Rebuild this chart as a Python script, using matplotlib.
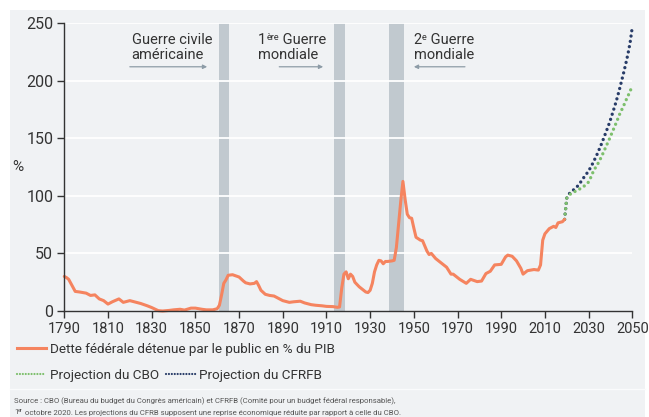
import matplotlib
matplotlib.use('Agg')
import matplotlib.pyplot as plt
from matplotlib import font_manager
from matplotlib.patches import Rectangle
from matplotlib.lines import Line2D

# ---------------- data ----------------
hist_years = [1790, 1791, 1792, 1795, 1797, 1800, 1802, 1804, 1806, 1808, 1810, 1812, 1815, 1817,
              1820, 1822, 1825, 1828, 1830, 1833, 1835, 1838, 1840, 1843, 1845, 1848, 1850, 1853,
              1855, 1858, 1860, 1861, 1862, 1863, 1864, 1865, 1867, 1870, 1872, 1873, 1875, 1877,
              1878, 1879, 1880, 1882, 1884, 1886, 1888, 1890, 1893, 1895, 1898, 1900, 1903, 1905,
              1908, 1910, 1913, 1915, 1916, 1917, 1918, 1919, 1920, 1921, 1922, 1923, 1925, 1928,
              1929, 1930, 1931, 1932, 1933, 1934, 1935, 1936, 1937, 1938, 1940, 1941, 1942, 1943,
              1944, 1945, 1946, 1947, 1948, 1949, 1950, 1951, 1953, 1954, 1956, 1957, 1958, 1960,
              1963, 1965, 1967, 1968, 1971, 1974, 1976, 1979, 1981, 1983, 1985, 1987, 1990, 1992,
              1993, 1995, 1997, 1999, 2000, 2002, 2005, 2007, 2008, 2009, 2010, 2012, 2014, 2015,
              2016, 2018, 2019]
hist_debt = [30, 29, 27.5, 17, 16.5, 15.5, 13.5, 14, 10.5, 9, 6, 8, 10.5, 7.5,
             9, 8, 6.5, 4.5, 3, 0.3, 0, 0.5, 1, 1.5, 0.8, 2.5, 2.5, 1.5,
             1, 1, 2, 5, 14, 24, 27, 31, 31.5, 29.5, 26, 24.5, 23.5, 24,
             25.5, 22, 18, 14.5, 13.5, 13, 11, 9, 7.5, 8, 8.5, 7, 5.5, 5,
             4.5, 4, 3.8, 3.2, 3.5, 20, 32, 34, 28, 32, 30, 25, 21, 16.5,
             16, 18, 24, 34, 40, 44, 43.5, 41, 43, 43, 43.5, 44, 55, 75,
             95, 112.5, 97, 84, 81, 80.5, 72, 64, 61.5, 61, 52, 49, 50, 45.5,
             41, 38, 32, 32, 27.5, 24, 27.5, 25.5, 26, 32.5, 34.5, 40, 40.5, 47,
             48.5, 47.5, 43.5, 37, 32, 35, 36, 35.5, 40, 61.5, 67, 71.5, 73.5, 72.5,
             76.5, 77.5, 79.5]

proj_years = list(range(2019, 2051))
cbo_proj = [79.5, 98, 100.5, 102, 103, 104, 105, 106, 107, 108.5, 110, 112, 116, 120.5,
            124, 127, 130.5, 134.5, 138.5, 143, 147, 151.5, 156, 160.5, 165, 170, 174,
            178, 182.5, 186.5, 191, 195]
cfrfb_proj = [79.5, 98, 101.5, 103.5, 105, 106.5, 108.5, 111, 113.5, 116.5, 119, 121.5, 125,
              128.5, 132.5, 136.5, 141, 145.5, 150.5, 155.5, 160.5, 166, 172, 178, 184.5,
              191.5, 199, 206.5, 214.5, 223, 233, 246.5]

wars = [(1861, 1865.5), (1913.5, 1918.5), (1938.7, 1945.6)]
x_ticks = list(range(1790, 2051, 20))
y_ticks = [0, 50, 100, 150, 200, 250]

legend_hist = "Dette fédérale détenue par le public en % du PIB"
legend_cbo = "Projection du CBO"
legend_cfrfb = "Projection du CFRFB"
source_1 = "Source : CBO (Bureau du budget du Congrès américain) et CFRFB (Comité pour un budget fédéral responsable),"
source_2 = " octobre 2020. Les projections du CFRB supposent une reprise économique réduite par rapport à celle du CBO."

# ---------------- style ----------------
names = {f.name for f in font_manager.fontManager.ttflist}
NARROW = 'Liberation Sans Narrow' if 'Liberation Sans Narrow' in names else 'Roboto'

ORANGE = '#f5845f'
GREEN = '#7dbf6c'
BLUE = '#283c68'
BAND = '#c1c9cf'
PANEL = '#f0f2f4'
TXT = '#333333'
ARROW = '#8d9ca7'
SRC = '#555555'

W, H = 649, 417
fig = plt.figure(figsize=(W / 100, H / 100), dpi=100)
fig.patch.set_facecolor('white')
fig.patches.append(Rectangle((10 / W, 0), 635 / W, 1 - 10 / H, transform=fig.transFigure,
                             facecolor=PANEL, edgecolor='none', zorder=-10))
fig.lines.append(Line2D([10 / W, 645 / W], [1 - 388.5 / H] * 2, transform=fig.transFigure,
                        color='#fafbfc', lw=1.0, zorder=-9))

ax = fig.add_axes([64.3 / W, 106 / H, 568 / W, 288 / H])
ax.set_facecolor('none')
ax.set_xlim(1790, 2050)
ax.set_ylim(0, 250)

for s, e in wars:
    ax.axvspan(s, e, color=BAND, lw=0, zorder=1)
for yv in y_ticks[1:]:
    ax.axhline(yv, color='white', lw=1.3, zorder=2)

ax.plot(hist_years, hist_debt, color=ORANGE, lw=2.2, zorder=4, clip_on=False,
        solid_joinstyle='round', solid_capstyle='round')
ax.plot(proj_years, cfrfb_proj, color=BLUE, lw=2.4, ls=(0, (0.01, 1.6)),
        dash_capstyle='round', zorder=3, clip_on=False)
ax.plot(proj_years, cbo_proj, color=GREEN, lw=2.4, ls=(0, (0.01, 1.6)),
        dash_capstyle='round', zorder=3.5, clip_on=False)

for sp in ['top', 'right']:
    ax.spines[sp].set_visible(False)
for sp in ['left', 'bottom']:
    ax.spines[sp].set_color(TXT)
    ax.spines[sp].set_linewidth(1.0)
    ax.spines[sp].set_zorder(5)

ax.set_xticks(x_ticks)
ax.set_yticks(y_ticks)
ax.tick_params(axis='both', direction='out', length=5, width=1.0, color=TXT, labelcolor=TXT)
ax.tick_params(axis='x', pad=3)
ax.tick_params(axis='y', pad=3)
for lab in ax.get_xticklabels():
    lab.set_fontfamily(NARROW)
    lab.set_fontsize(10.5)
for lab in ax.get_yticklabels():
    lab.set_fontfamily(NARROW)
    lab.set_fontsize(11.5)

fig.text(18 / W, 1 - 167 / H, '%', ha='center', va='center', fontsize=11, color=TXT, family=NARROW)

# ---------------- annotations ----------------
renderer = fig.canvas.get_renderer()


def rich(x_px, y_base_px, parts, color, family):
    x = x_px
    for s, size, rise in parts:
        t = fig.text(x / W, 1 - (y_base_px - rise) / H, s, fontsize=size, family=family,
                     color=color, ha='left', va='baseline')
        x += t.get_window_extent(renderer=renderer).width
    return x


def data_px(xd, yd):
    dx, dy = ax.transData.transform((xd, yd))
    return dx, H - dy


ANN = 10.5
ann_top = 231.5
ann_bot = 218.5
for (xd, lines) in [(1820.8, [[("Guerre civile", ANN, 0)], [("américaine", ANN, 0)]]),
                    (1878.8, [[("1", ANN, 0), ("ère", 6.5, 4.5), (" Guerre", ANN, 0)],
                              [("mondiale", ANN, 0)]]),
                    (1950.0, [[("2", ANN, 0), ("e", 6.5, 4.5), (" Guerre", ANN, 0)],
                              [("mondiale", ANN, 0)]])]:
    for yd, parts in zip([ann_top, ann_bot], lines):
        px, py = data_px(xd, yd)
        rich(px, py, parts, TXT, NARROW)

for x0, x1 in [(1820.0, 1855.4), (1888.4, 1908.5), (1973.4, 1950.0)]:
    ax.annotate('', xy=(x1, 212), xytext=(x0, 212),
                arrowprops=dict(arrowstyle='-|>', color=ARROW, lw=0.9, mutation_scale=6,
                                shrinkA=0, shrinkB=0), zorder=6)

# ---------------- legend ----------------
LEG = 9.7
fig.lines.append(Line2D([17 / W, 46 / W], [1 - 348 / H] * 2, transform=fig.transFigure,
                        color=ORANGE, lw=2.2))
fig.text(50 / W, 1 - 353.5 / H, legend_hist, fontsize=LEG, family=NARROW, color=TXT,
         ha='left', va='baseline')
fig.lines.append(Line2D([17 / W, 46 / W], [1 - 374 / H] * 2, transform=fig.transFigure,
                        color=GREEN, lw=1.6, ls=(0, (0.01, 1.3)), dash_capstyle='round'))
fig.text(50 / W, 1 - 379 / H, legend_cbo, fontsize=LEG, family=NARROW, color=TXT,
         ha='left', va='baseline')
fig.lines.append(Line2D([166 / W, 198 / W], [1 - 374 / H] * 2, transform=fig.transFigure,
                        color=BLUE, lw=1.6, ls=(0, (0.01, 1.3)), dash_capstyle='round'))
fig.text(199 / W, 1 - 379 / H, legend_cfrfb, fontsize=LEG, family=NARROW, color=TXT,
         ha='left', va='baseline')

# ---------------- source ----------------
SRC_FS = 5.6
fig.text(14 / W, 1 - 403 / H, source_1, fontsize=SRC_FS, family=NARROW, color=SRC,
         ha='left', va='baseline')
rich(14, 414.5, [("1", SRC_FS, 0), ("er", 4.0, 2.5), (source_2, SRC_FS, 0)], SRC, NARROW)

fig.savefig('out.png', dpi=100, facecolor=fig.get_facecolor())
